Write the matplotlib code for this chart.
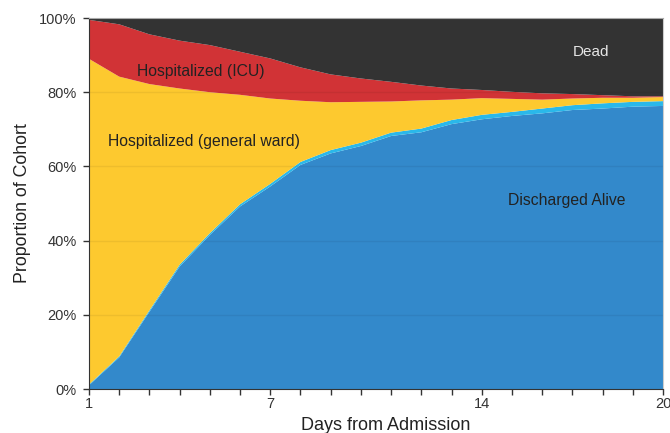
import numpy as np
import matplotlib.pyplot as plt

plt.rcParams['font.family'] = ['Liberation Sans', 'DejaVu Sans']

# values (percent of cohort)
days = list(range(1, 21))
discharged = [1.0, 8.5, 20.8, 33.0, 41.5, 49.2, 54.6, 60.4, 63.5, 65.5,
              68.2, 69.2, 71.4, 72.7, 73.6, 74.3, 75.2, 75.6, 76.1, 76.3]
other = [0.2, 0.3, 0.4, 0.5, 0.5, 0.6, 0.7, 0.8, 0.9, 0.9,
         0.9, 1.0, 1.1, 1.2, 1.1, 1.3, 1.3, 1.4, 1.3, 1.3]
ward_top = [89.0, 84.2, 82.2, 81.0, 80.0, 79.3, 78.3, 77.7, 77.3, 77.4,
            77.5, 77.8, 78.0, 78.4, 78.2, 78.0, 78.3, 78.5, 78.5, 78.7]
icu_top = [99.5, 98.3, 95.6, 93.9, 92.7, 90.9, 89.1, 86.7, 84.8, 83.7,
           82.8, 81.8, 81.0, 80.6, 80.1, 79.7, 79.5, 79.2, 78.9, 78.9]

disc = np.array(discharged)
oth = np.array(other)
ward = np.array(ward_top) - disc - oth
icu = np.array(icu_top) - np.array(ward_top)
dead = 100 - np.array(icu_top)

colors = ['#3389cb', '#2ab8ea', '#fdc92f', '#d13336', '#333333']

fig = plt.figure(figsize=(6.7, 4.33), dpi=100)
ax = fig.add_axes([0.1328, 0.1016, 0.8568, 0.8568])
ax.stackplot(days, disc / 100, oth / 100, ward / 100, icu / 100, dead / 100,
             colors=colors, linewidth=0)

# faint gridlines showing through the areas
for g in [0.2, 0.4, 0.6, 0.8]:
    ax.axhline(g, color='#000000', alpha=0.06, lw=1)

ax.set_xlim(1, 20)
ax.set_ylim(0, 1)
ax.set_yticks([0, 0.2, 0.4, 0.6, 0.8, 1.0])
ax.set_yticklabels(['0%', '20%', '40%', '60%', '80%', '100%'])
ax.set_xticks(days)
ax.set_xticklabels([str(d) if d in (1, 7, 14, 20) else '' for d in days])
ax.tick_params(axis='both', direction='out', length=4, width=1,
               colors='#333333', labelsize=10.5, pad=2)
ax.tick_params(axis='y', pad=5)

ax.spines['left'].set_color('#333333')
ax.spines['bottom'].set_color('#333333')
ax.spines['top'].set_color('#aaaaaa')
ax.spines['right'].set_color('#cccccc')

ax.set_xlabel('Days from Admission', fontsize=13, color='#222222', labelpad=3)
ax.xaxis.set_label_coords(0.516, -0.075)
ax.set_ylabel('Proportion of Cohort', fontsize=12.8, color='#222222', labelpad=6)

ax.text(17.6, 0.908, 'Dead', color='#e6e6e6', fontsize=11, ha='center', va='center')
ax.text(4.7, 0.855, 'Hospitalized (ICU)', color='#222222', fontsize=11.3,
        ha='center', va='center')
ax.text(4.8, 0.667, 'Hospitalized (general ward)', color='#222222', fontsize=11.3,
        ha='center', va='center')
ax.text(16.8, 0.509, 'Discharged Alive', color='#222222', fontsize=11.3,
        ha='center', va='center')

fig.savefig('out.png', dpi=100)
